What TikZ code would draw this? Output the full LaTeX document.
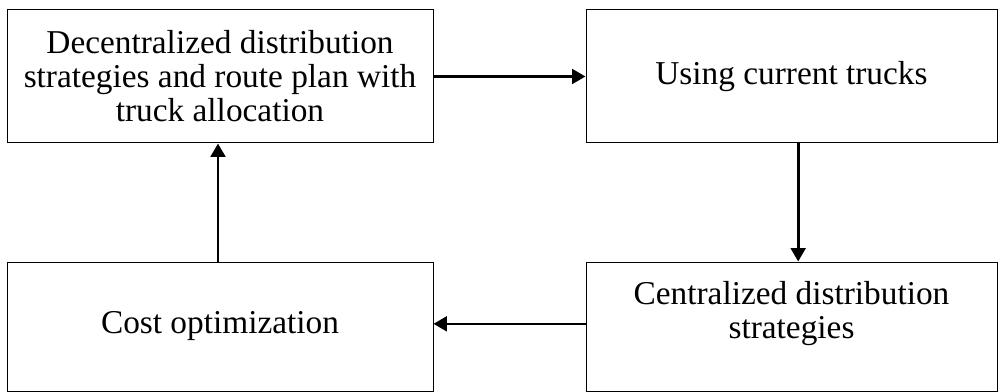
\documentclass[tikz,border=0pt]{standalone}
\usepackage{fontspec}
\setmainfont{Liberation Serif}
\usetikzlibrary{arrows.meta}

\begin{document}
\begin{tikzpicture}[x=0.75pt,y=-0.75pt,
    stage/.style={draw, line width=0.75pt, align=center, inner sep=0pt, font=\fontsize{25}{25.5}\selectfont},
    flow/.style={line width=2pt, -{Triangle[length=10pt,width=11pt]}}]
    % Fix the page size
    \useasboundingbox (0,0) rectangle (1003,392);

    % Draw the four boxes
    \node[stage, minimum width=319.5pt, minimum height=99.75pt] (decentral) at (220,76.5) {Decentralized distribution\\strategies and route plan with\\truck allocation};
    \node[stage, minimum width=308.25pt, minimum height=99.75pt] (trucks) at (791.5,76.5) {Using current trucks};
    \node[stage, minimum width=308.25pt, minimum height=96.75pt] (central) at (791.5,326.5) {Centralized distribution\\strategies\\\mbox{}};
    \node[stage, minimum width=319.5pt, minimum height=96.75pt] (cost) at (220,326.5) {Cost optimization};

    % Draw the arrows between them
    \draw[flow] (decentral) -- (trucks);
    \draw[flow] ([xshift=5pt]trucks.south) -- ([xshift=5pt]central.north);
    \draw[flow] ([yshift=2pt]central.west) -- ([yshift=2pt]cost.east);
    \draw[flow] ([xshift=-1.5pt]cost.north) -- ([xshift=-1.5pt]decentral.south);

\end{tikzpicture}
\end{document}
